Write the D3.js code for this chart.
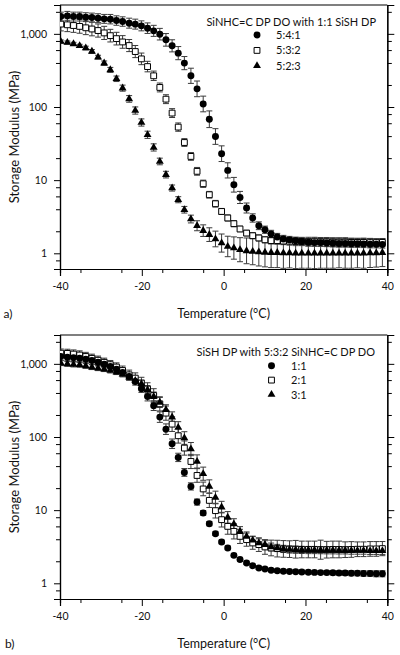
<!DOCTYPE html>
<html><head><meta charset="utf-8">
<script src="https://cdn.jsdelivr.net/npm/d3@7/dist/d3.min.js"></script>
<style>
body{margin:0;background:#fff;}
svg{display:block;font-family:Lato,"Open Sans",sans-serif;}
</style>
</head><body>
<svg id="chart" width="400" height="655"></svg>
<script>
// ---------- data ----------
const temperatures = [-39.8,-38.2,-36.7,-35.2,-33.7,-32.2,-30.7,-29.2,-27.7,-26.2,-24.7,-23.1,-21.6,-20.1,-18.6,-17.1,-15.6,-14.1,-12.6,-11.1,-9.6,-8.0,-6.5,-5.0,-3.5,-2.0,-0.5,1.0,2.5,4.0,5.6,7.1,8.6,10.1,11.6,13.1,14.6,16.1,17.6,19.1,20.7,22.2,23.7,25.2,26.7,28.2,29.7,31.2,32.7,34.2,35.8,37.3,38.8];

const xTickValues = [-40,-20,0,20,40];
const xTickLabels = ["-40","-20","0","20","40"];
const yTickValues = [1,10,100,1000];
const yTickLabels = ["1","10","100","1,000"];

// panel a: SiNHC=C DP DO with 1:1 SiSH DP
const titleA = "SiNHC=C DP DO with 1:1 SiSH DP";
const namesA = ["5:4:1","5:3:2","5:2:3"];
const modA541 = [1722,1762,1722,1722,1690,1670,1637,1603,1588,1520,1473,1400,1358,1286,1196,1099,990,828,686,545,398,267,177,110,68,39.5,23,
  13.6,8.65,5.8,4.16,3.04,2.38,2.1,1.84,1.67,1.57,
  1.52,1.48,1.45,1.42,1.40,1.40,1.38,1.37,1.36,1.36,1.35,1.35,1.34,1.33,1.33,1.32];
const modA532 = [1360,1330,1300,1265,1210,1165,1110,1030,945,860,775,692,573,455,357,267,185,128,82.6,53.1,32.7,21.1,13.2,8.93,6.32,4.76,3.73,
  3.04,2.54,2.15,1.89,1.74,1.62,1.53,1.49,1.49,
  1.47,1.46,1.45,1.45,1.44,1.44,1.43,1.43,1.42,1.42,1.42,1.41,1.41,1.41,1.40,1.40,1.41];
const modA523 = [785,762,730,686,640,575,481,398,322,243,181,129,89.5,61.4,41.7,28,18,11.9,7.8,5.4,3.94,2.94,2.38,2.04,1.80,1.57,1.38,
  1.24,1.18,1.12,1.08,1.06,1.04,1.03,1.02,1.02,1.01,1.01,1.0,1.0,1.0,1.0,1.0,1.0,1.0,1.0,1.0,1.0,1.0,1.0,1.01,1.01,1.02];
const errA541 = [0.15,0.15,0.15,0.15,0.15,0.15,0.15,0.15,0.16,0.16,0.16,0.17,0.17,0.17,0.18,
  0.19,0.2,0.22,0.21,0.23,0.23,0.27,0.28,0.28,0.3,0.28,0.28,
  0.27,0.26,0.21,0.17,0.14,0.13,0.12,0.12,0.12,0.12,0.12,0.12,0.12,0.12,0.12,0.12,0.12,0.12,0.12,0.12,0.12,0.12,0.12,0.12,0.12,0.12];
const errA532 = [0.24,0.24,0.24,0.24,0.24,0.24,0.23,0.23,0.22,0.22,0.22,0.21,0.21,
  0.2,0.18,0.16,0.15,0.15,0.15,0.14,0.13,0.13,0.13,0.12,0.11,0.11,0.1,
  0.1,0.1,0.09,0.09,0.1,0.1,0.1,0.11,0.12,0.12,0.13,0.14,0.14,0.15,0.15,0.15,0.15,0.15,0.15,0.15,0.14,0.14,0.14,0.14,0.13,0.13];
const errA523 = [0.05,0.05,0.05,0.05,0.06,0.06,0.06,0.07,0.08,0.09,
  0.1,0.11,0.12,0.12,0.12,0.12,0.11,0.11,0.1,
  0.1,0.11,0.13,0.17,0.2,0.24,0.28,0.33,
  0.38,0.42,0.46,0.5,0.52,0.55,0.58,0.6,0.6,0.62,0.6,0.62,0.6,0.6,0.62,0.6,0.6,0.6,0.58,0.6,0.6,0.58,0.6,0.58,0.56,0.55];

// panel b: SiSH DP with 5:3:2 SiNHC=C DP DO
const titleB = "SiSH DP with 5:3:2 SiNHC=C DP DO";
const namesB = ["1:1","2:1","3:1"];
const modB11 = [1259,1234,1208,1197,1159,1109,1054,991,919,847,761,671,573,456,358,267,187,128,80.9,52.6,32.8,21.1,12.9,9.15,6.53,4.77,3.67,
  3.04,2.41,2.11,1.90,1.74,1.62,1.57,1.51,1.48,
  1.46,1.45,1.44,1.43,1.42,1.41,1.40,1.40,1.39,1.38,1.38,1.37,1.37,1.36,1.36,1.35,1.35];
const modB21 = [1400,1390,1360,1320,1260,1190,1120,1050,975,905,811,708,638,546,452,369,284,212,150,104,70.6,46.3,29.8,19.5,13.6,9.84,7.41,
  6.0,5.13,4.38,3.95,3.56,3.38,3.14,3.04,2.98,
  2.95,2.93,2.92,2.9,2.9,2.9,2.88,2.88,2.9,2.9,2.88,2.9,2.92,2.92,2.95,2.95,2.98];
const modB31 = [1023,1000,980,970,939,902,873,847,811,771,723,659,592,534,442,358,297,236,187,135,96.8,68.4,46.3,31.5,21.1,14.9,11.0,
  7.96,6.47,5.13,4.38,3.87,3.56,3.38,3.14,3.04,2.95,
  2.9,2.88,2.86,2.85,2.85,2.84,2.83,2.83,2.82,2.82,2.8,2.8,2.8,2.78,2.78,2.78];
const errB11 = [0.12,0.12,0.12,0.12,0.12,0.12,0.12,0.12,0.12,0.12,0.12,0.12,0.12,0.12,
  0.15,0.16,0.18,0.18,0.16,0.14,0.13,0.12,0.1,
  0.08,0.07,0.06,0.06,0.06,0.05,0.05,0.05,
  0.05,0.05,0.05,0.05,0.05,0.05,0.05,0.06,0.06,0.06,0.06,0.06,0.07,0.07,0.07,0.08,0.08,0.08,0.09,0.09,0.1,0.1];
const errB21 = [0.14,0.14,0.14,0.14,0.14,0.14,0.14,0.14,0.14,0.14,
  0.15,0.16,0.18,0.2,0.22,0.24,0.25,
  0.25,0.26,0.26,0.25,0.25,0.24,0.24,0.25,0.26,0.26,0.28,0.27,0.25,0.23,
  0.22,0.24,0.26,0.28,0.3,0.3,0.3,0.32,0.3,0.3,0.3,0.35,0.3,0.3,0.3,0.28,0.28,0.26,0.26,0.26,0.26,0.25];
const errB31 = [0.08,0.08,0.08,0.08,0.08,0.08,0.08,0.08,0.08,0.08,
  0.09,0.1,0.11,0.12,0.14,0.15,0.17,
  0.17,0.18,0.2,0.22,0.23,0.23,0.23,0.23,0.22,0.2,0.2,0.18,0.16,0.15,
  0.14,0.14,0.13,0.13,0.12,0.12,0.12,0.12,0.12,0.12,0.12,0.12,0.12,0.12,0.12,0.12,0.12,0.12,0.12,0.12,0.12,0.12];

const xLabel = "Temperature (\u00B0C)";
const yLabel = "Storage Modulus (MPa)";

// ---------- drawing ----------
const svg = d3.select("#chart");
const L = 60, R = 387.3;
const x = d3.scaleLinear().domain([-40, 40]).range([L, R]);

const shapes = {
  circle: {type: d3.symbolCircle, size: 38, fill: "#000", stroke: "none"},
  square: {type: d3.symbolSquare, size: 34, fill: "#fff", stroke: "#000"},
  triangle: {type: d3.symbolTriangle, size: 27, fill: "#000", stroke: "none"}
};

function minorValues(dom) {
  const out = [];
  [0.1, 1, 10, 100, 1000].forEach(d => [2,4,6,8].forEach(m => {
    const v = m * d;
    if (v >= dom[0] && v <= dom[1]) out.push(v);
  }));
  return out;
}

function panel(cfg) {
  const top = cfg.top, bottom = cfg.top + 264;
  const y = d3.scaleLog().domain([0.61, 2480]).range([bottom, top]);
  const g = svg.append("g");
  const clipId = "clip" + cfg.tag;
  svg.append("clipPath").attr("id", clipId).append("rect")
    .attr("x", L).attr("y", top).attr("width", R - L).attr("height", bottom - top);

  const minors = minorValues(y.domain());
  // left axis
  const axL = g.append("g").attr("transform", `translate(${L},0)`);
  axL.call(d3.axisLeft(y).tickValues(yTickValues).tickFormat((d,i) => yTickLabels[i]).tickSize(6).tickPadding(7));
  axL.append("g").call(d3.axisLeft(y).tickValues(minors).tickFormat("").tickSize(4));
  // right axis
  const axR = g.append("g").attr("transform", `translate(${R},0)`);
  axR.call(d3.axisRight(y).tickValues(yTickValues).tickFormat("").tickSize(7));
  axR.append("g").call(d3.axisRight(y).tickValues(minors).tickFormat("").tickSize(4.5));
  // bottom axis
  const axB = g.append("g").attr("transform", `translate(0,${bottom})`);
  axB.call(d3.axisBottom(x).tickValues(xTickValues).tickFormat((d,i) => xTickLabels[i]).tickSize(7).tickPadding(7));
  axB.append("g").call(d3.axisBottom(x).tickValues(d3.range(-35, 40, 10)).tickFormat("").tickSize(4));
  // top line
  g.append("line").attr("x1", L).attr("x2", R).attr("y1", top).attr("y2", top)
    .attr("stroke", "#000").attr("stroke-width", 1.2);

  g.selectAll(".domain").attr("stroke", "#000").attr("stroke-width", 1.2);
  g.selectAll(".tick line").attr("stroke", "#000").attr("stroke-width", 1);
  g.selectAll(".tick text").attr("font-size", 10.5).attr("fill", "#111")
    .attr("font-family", "Lato, sans-serif");

  // data
  const plot = g.append("g").attr("clip-path", `url(#${clipId})`);
  cfg.series.forEach(s => {
    const pts = temperatures.map((t, i) => ({t, v: s.values[i], e: s.errors[i]}));
    const eg = plot.append("g").attr("stroke", "#3a3a3a").attr("stroke-width", 1);
    pts.forEach(p => {
      const hi = p.v * (1 + p.e), lo = p.v / (1 + p.e);
      const xx = x(p.t);
      eg.append("line").attr("x1", xx).attr("x2", xx).attr("y1", y(hi)).attr("y2", y(lo));
      eg.append("line").attr("x1", xx - 3).attr("x2", xx + 3).attr("y1", y(hi)).attr("y2", y(hi));
      eg.append("line").attr("x1", xx - 3).attr("x2", xx + 3).attr("y1", y(lo)).attr("y2", y(lo));
    });
  });
  cfg.series.forEach(s => {
    const sh = shapes[s.shape];
    const sym = d3.symbol().type(sh.type).size(sh.size);
    plot.append("g").selectAll("path").data(temperatures.map((t, i) => ({t, v: s.values[i]})))
      .join("path")
      .attr("transform", d => `translate(${x(d.t)},${y(d.v)})`)
      .attr("d", sym)
      .attr("fill", sh.fill).attr("stroke", sh.stroke).attr("stroke-width", 1);
  });

  // legend
  const lg = g.append("g").attr("font-size", 11).attr("fill", "#111");
  lg.append("text").attr("x", cfg.legend.titleRight).attr("y", top + cfg.legend.titleDy)
    .attr("text-anchor", "end").text(cfg.title);
  cfg.legendOrder.forEach((k, i) => {
    const s = cfg.series.find(ss => ss.key === k);
    const sh = shapes[s.shape];
    const yy = top + cfg.legend.row0 + i * cfg.legend.rowGap;
    lg.append("path").attr("transform", `translate(${cfg.legend.markerX},${yy})`)
      .attr("d", d3.symbol().type(sh.type).size(sh.size)())
      .attr("fill", sh.fill).attr("stroke", sh.stroke).attr("stroke-width", 1);
    lg.append("text").attr("x", cfg.legend.labelX).attr("y", yy + 4).text(s.name);
  });

  // axis titles
  g.append("text").attr("x", (L + R) / 2).attr("y", bottom + 49).attr("text-anchor", "middle")
    .attr("font-size", 12.5).attr("fill", "#111").text(xLabel);
  g.append("text").attr("transform", `translate(14.5,${(top + bottom) / 2}) rotate(-90)`)
    .attr("text-anchor", "middle").attr("dy", "0.35em")
    .attr("font-size", 13).attr("fill", "#111").text(yLabel);
  g.append("text").attr("x", cfg.tagX).attr("y", bottom + 48.5).attr("font-size", 12)
    .attr("fill", "#111").text(cfg.tag + ")");
}

panel({
  tag: "a", tagX: 3.5, top: 5, title: titleA,
  series: [
    {key: "s532", name: namesA[1], values: modA532, errors: errA532, shape: "square"},
    {key: "s523", name: namesA[2], values: modA523, errors: errA523, shape: "triangle"},
    {key: "s541", name: namesA[0], values: modA541, errors: errA541, shape: "circle"}
  ],
  legendOrder: ["s541", "s532", "s523"],
  legend: {titleRight: 376, titleDy: 20.5, markerX: 257, labelX: 276, row0: 30, rowGap: 15.4}
});
panel({
  tag: "b", tagX: 5, top: 335, title: titleB,
  series: [
    {key: "s21", name: namesB[1], values: modB21, errors: errB21, shape: "square"},
    {key: "s31", name: namesB[2], values: modB31, errors: errB31, shape: "triangle"},
    {key: "s11", name: namesB[0], values: modB11, errors: errB11, shape: "circle"}
  ],
  legendOrder: ["s11", "s21", "s31"],
  legend: {titleRight: 375, titleDy: 21, markerX: 271.5, labelX: 291, row0: 30.7, rowGap: 14.4}
});
</script>
</body></html>
